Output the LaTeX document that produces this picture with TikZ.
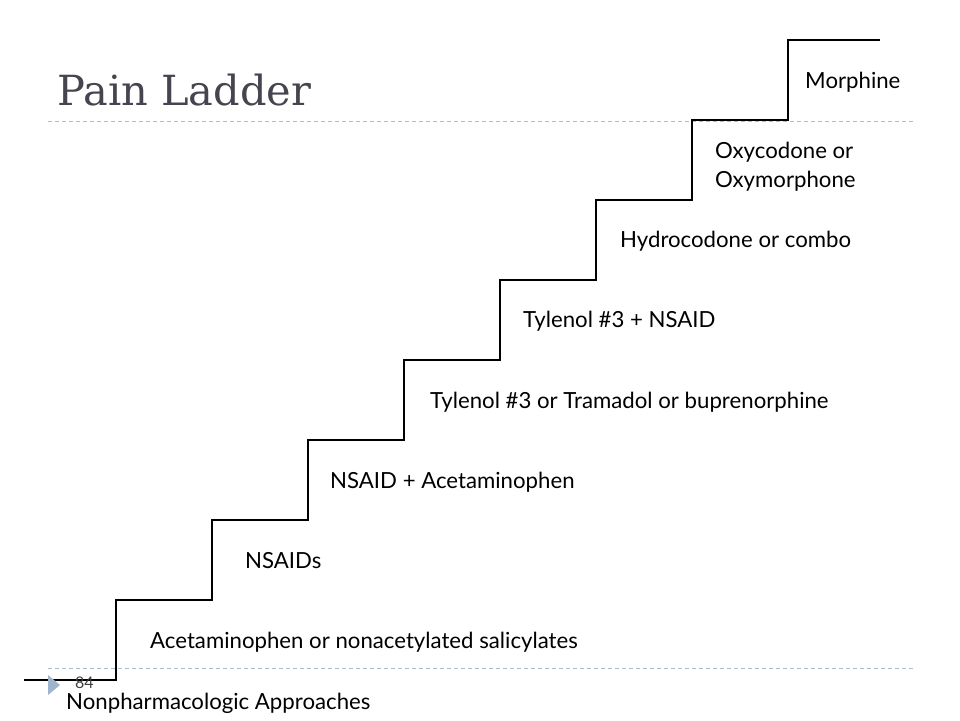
\documentclass[tikz,border=0pt]{standalone}
\usepackage{fontspec}
\setmainfont{Lato}
\newfontfamily\titlefont{DejaVu Serif}
\definecolor{titlegray}{HTML}{45454F}
\definecolor{dashblue}{HTML}{A9BDCB}
\definecolor{bulletblue}{HTML}{9FB5CC}
\definecolor{numgray}{HTML}{404040}
\tikzset{
  lbl/.style={anchor=base west, inner sep=0pt, font=\fontsize{22.2}{26}\selectfont, text=black},
  stair/.style={line width=1.4pt, black},
  sep/.style={dashblue, line width=0.9pt, dash pattern=on 4pt off 3pt},
}
\begin{document}
\begin{tikzpicture}[x=1pt,y=-1pt]
\useasboundingbox (0,0) rectangle (960,720);
% dashed separator lines
\coordinate (s1a) at (48,121); \coordinate (s1b) at (914,121);
\coordinate (s2a) at (48,668); \coordinate (s2b) at (914,668);
\draw[sep] (s1a) -- (s1b);
\draw[sep] (s2a) -- (s2b);
% title
\node[anchor=base west, inner sep=0pt, text=titlegray, font=\titlefont\fontsize{41.5}{48}\selectfont] (title) at (57,105) {Pain Ladder};
% staircase
\coordinate (p0) at (24,680);
\draw[stair] (p0) -- (116,680) -- (116,600) -- (212,600) -- (212,520) -- (308,520) -- (308,440)
  -- (404,440) -- (404,360) -- (500,360) -- (500,280) -- (596,280) -- (596,200)
  -- (692,200) -- (692,120) -- (788,120) -- (788,40) -- (880,40);
% bullet and page number
\fill[bulletblue] (48,675) -- (60,685) -- (48,695) -- cycle;
\node[anchor=base west, inner sep=0pt, text=numgray, font=\fontsize{16}{18}\selectfont] (num) at (75,688.5) {84};
% labels
\node[lbl] (l0) at (66,709) {Nonpharmacologic Approaches};
\node[lbl] (l1) at (150,648) {Acetaminophen or nonacetylated salicylates};
\node[lbl] (l2) at (245,568) {NSAIDs};
\node[lbl] (l3) at (330,488) {NSAID + Acetaminophen};
\node[lbl] (l4) at (430,408) {Tylenol \#3 or Tramadol or buprenorphine};
\node[lbl] (l5) at (523,327) {Tylenol \#3 + NSAID};
\node[lbl] (l6) at (620,247) {Hydrocodone or combo};
\node[lbl] (l7a) at (715,158) {Oxycodone or};
\node[lbl] (l7b) at (715,187) {Oxymorphone};
\node[lbl] (l8) at (805,88) {Morphine};
\end{tikzpicture}
\end{document}
